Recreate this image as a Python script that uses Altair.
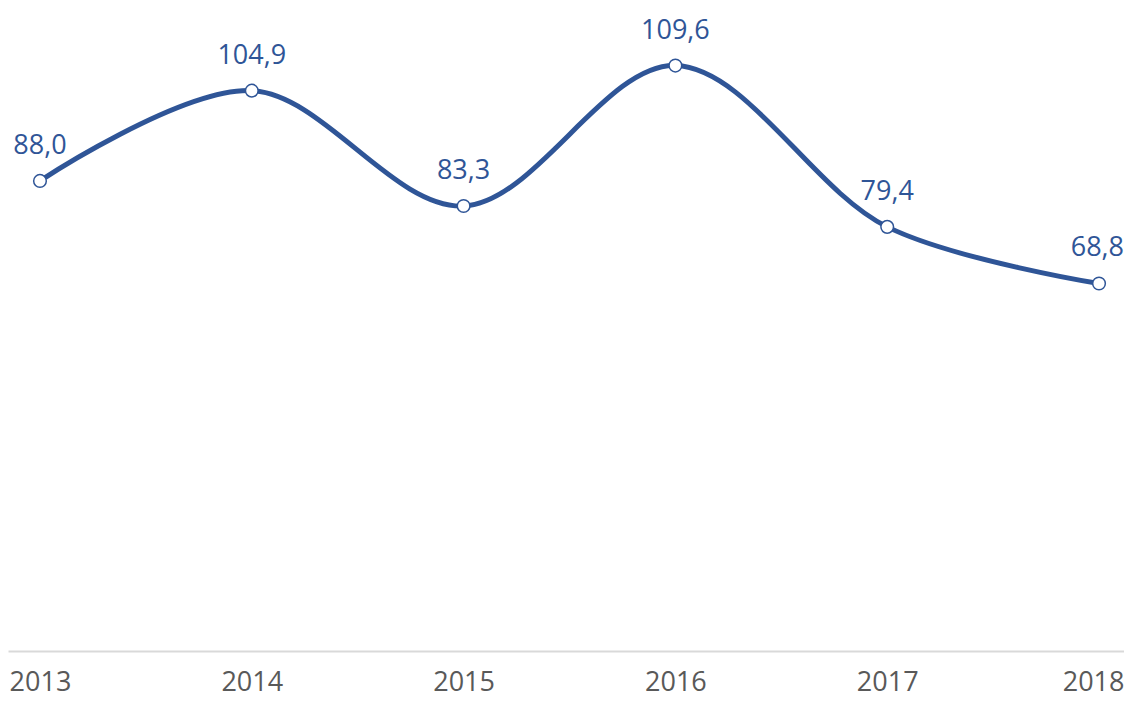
import altair as alt
import pandas as pd

years = [2013, 2014, 2015, 2016, 2017, 2018]
values = [88.0, 104.9, 83.3, 109.6, 79.4, 68.8]

df = pd.DataFrame({"year": years, "value": values})
df["label"] = [f"{v:.1f}".replace(".", ",") for v in values]

BLUE = "#2f5597"
FONT = "Open Sans"
LAST = years[-1]

x = alt.X("year:Q",
          scale=alt.Scale(domain=[2012.849, 2018.118], nice=False, zero=False),
          axis=alt.Axis(values=years, format="d", title=None, grid=False, ticks=False,
                        domainColor="#d9d9d9", domainWidth=2, labelColor="#595959",
                        labelFontSize=27, labelFont=FONT, labelPadding=18,
                        labelFlush=False,
                        labelAlign=alt.condition(f"datum.value == {LAST}",
                                                 alt.value("right"), alt.value("center")),
                        labelOffset=alt.condition(f"datum.value == {LAST}",
                                                  alt.value(25), alt.value(0))))
y = alt.Y("value:Q", scale=alt.Scale(domain=[0, 120], nice=False), axis=None)

base = alt.Chart(df).encode(x=x, y=y)

line = base.mark_line(color=BLUE, strokeWidth=5, interpolate="catmull-rom")
pts = base.mark_point(filled=True, fill="white", stroke=BLUE, strokeWidth=1.5,
                      size=160, opacity=1, shape="circle")
txt = base.transform_filter(f"datum.year != {LAST}").mark_text(
    dy=-21, baseline="bottom", fontSize=27, font=FONT, color=BLUE).encode(text="label:N")
txt_last = base.transform_filter(f"datum.year == {LAST}").mark_text(
    dy=-21, dx=25, align="right", baseline="bottom", fontSize=27, font=FONT,
    color=BLUE).encode(text="label:N")

chart = (line + pts + txt + txt_last).properties(
    width=1116, height=641,
    autosize=alt.AutoSizeParams(type="none"),
    padding={"top": 2, "left": 0, "right": 0, "bottom": 48},
).configure_view(stroke=None)

chart.save("out.html", embed_options={"renderer": "svg", "actions": False})
